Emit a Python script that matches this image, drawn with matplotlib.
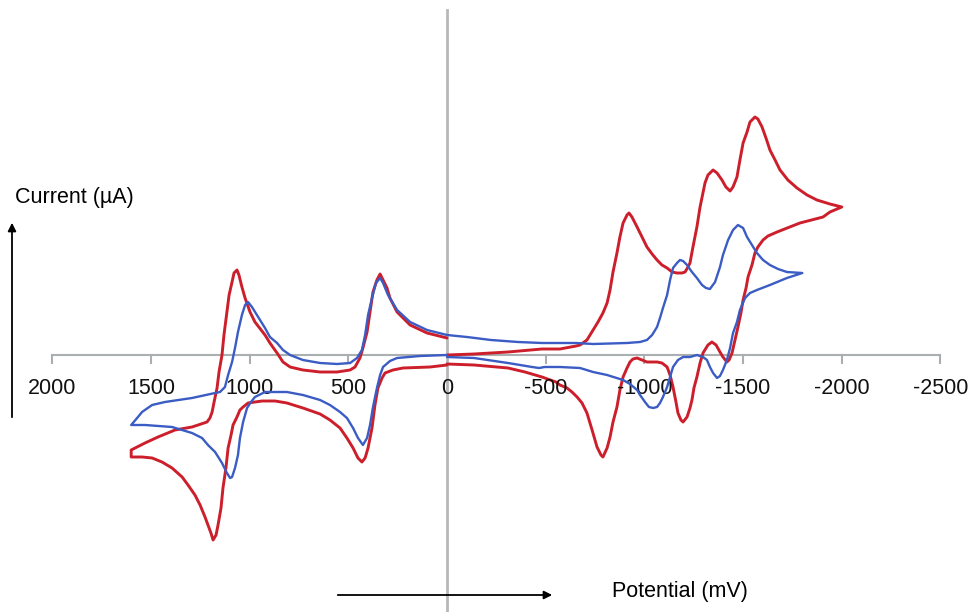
import matplotlib
matplotlib.use("Agg")
import matplotlib.pyplot as plt

plt.rcParams['font.family'] = ['Liberation Sans', 'DejaVu Sans']

# oxidation scans (0 -> +1600 -> 0), potential in mV, current in arbitrary uA
blue_ox_E = [0, 101, 187, 253, 299, 324, 339, 360, 380, 400, 415, 431, 456, 491, 557, 643, 730,
             795, 831, 861, 897, 922, 963, 988, 1008, 1023, 1039, 1059, 1074, 1089, 1109, 1125,
             1150, 1175, 1292, 1429, 1494, 1545, 1570, 1600,
             1530, 1393, 1292, 1241, 1211, 1175, 1140, 1115, 1099, 1089, 1074, 1059, 1049, 1033,
             1013, 993, 973, 922, 871, 811, 730, 643, 593, 542, 507, 476, 451, 426, 405, 390,
             375, 355, 339, 324, 289, 253, 137, 0]
blue_ox_I = [2.0, 2.5, 3.3, 4.5, 6.0, 7.2, 7.7, 7.2, 5.7, 4.0, 2.0, 0.5, -0.3, -0.8, -0.9, -0.8, -0.5,
             0.0, 0.5, 1.2, 1.8, 2.7, 4.0, 4.8, 5.3, 5.0, 4.0, 2.3, 0.7, -0.7, -2.0, -3.2,
             -3.7, -3.8, -4.3, -4.7, -5.0, -5.7, -6.3, -7.0,
             -7.0, -7.2, -7.8, -8.3, -9.0, -9.7, -10.8, -11.8, -12.3, -12.2, -11.3, -10.0, -8.3, -6.7,
             -5.3, -4.7, -4.2, -3.7, -3.7, -3.7, -4.0, -4.5, -5.0, -5.7, -6.3, -7.3, -8.3, -9.0, -8.3, -7.0,
             -5.2, -3.3, -2.0, -1.2, -0.6, -0.3, -0.1, 0.0]

red_ox_E = [0, 101, 187, 253, 289, 304, 324, 339, 355, 375, 390, 405, 426, 441, 466, 491, 557,
            643, 730, 795, 831, 861, 897, 922, 973, 998, 1023, 1039, 1054, 1064, 1079, 1089, 1104,
            1115, 1130, 1140, 1155, 1165, 1180, 1190, 1201, 1216, 1261, 1292, 1378, 1464, 1530, 1600,
            1600, 1545, 1494, 1444, 1393, 1342, 1312, 1277, 1251, 1226, 1211, 1196, 1185, 1170,
            1160, 1145, 1135, 1120, 1109, 1094, 1084, 1064, 1049, 1033, 1008, 937, 871, 811, 730,
            643, 593, 542, 507, 476, 451, 431, 415, 400, 380, 365, 350, 329, 314, 274, 223, 86, 0]
red_ox_I = [1.7, 2.2, 3.0, 4.3, 5.7, 6.7, 7.5, 8.1, 7.5, 6.3, 4.3, 2.3, 0.7, -0.3, -1.2, -1.5, -1.7,
            -1.7, -1.5, -1.2, -0.7, 0.2, 1.2, 2.0, 3.3, 4.3, 5.7, 6.8, 8.0, 8.5, 8.2, 7.3, 6.0,
            4.3, 2.0, 0.0, -1.7, -3.3, -4.7, -5.7, -6.3, -6.7, -7.0, -7.2, -7.5, -8.2, -8.8, -9.5,
            -10.2, -10.2, -10.3, -10.7, -11.3, -12.2, -13.0, -14.0, -15.0, -16.2, -17.0, -17.8, -18.5, -18.0,
            -17.0, -15.3, -13.3, -11.3, -9.3, -8.0, -7.0, -6.2, -5.5, -5.2, -4.8, -4.6, -4.6, -4.8, -5.3,
            -5.9, -6.5, -7.3, -8.3, -9.3, -10.3, -10.7, -10.3, -9.3, -7.3, -5.0, -3.3, -2.3, -1.8, -1.5,
            -1.3, -1.2, -1.0]

# reduction scans (0 -> -1800 / -2000 -> 0)
blue_red_E = [0, -101, -223, -360, -481, -654, -740, -912, -978, -1013, -1039, -1064, -1079, -1094,
              -1115, -1130, -1145, -1165, -1180, -1196, -1216, -1241, -1266, -1292, -1312, -1332,
              -1358, -1383, -1398, -1424, -1449, -1474, -1500, -1520, -1545, -1570, -1601, -1636,
              -1677, -1722, -1800,
              -1722, -1636, -1570, -1535, -1510, -1484, -1469, -1449, -1434, -1418, -1398, -1383,
              -1368, -1348, -1332, -1317, -1297, -1266, -1231, -1196, -1170, -1145, -1130, -1115,
              -1094, -1079, -1064, -1044, -1023, -1003, -978, -963, -927, -892, -811, -740, -674,
              -572, -532, -496, -466, -431, -309, -137, 0]
blue_red_I = [2.0, 1.8, 1.5, 1.3, 1.2, 1.2, 1.1, 1.2, 1.3, 1.5, 2.0, 2.8, 3.7, 4.7,
              6.0, 7.5, 8.7, 9.2, 9.5, 9.4, 9.0, 8.3, 7.7, 7.0, 6.7, 6.6,
              7.3, 8.8, 10.0, 11.5, 12.5, 13.0, 12.7, 11.8, 11.0, 10.2, 9.5, 9.0,
              8.6, 8.3, 8.2,
              7.7, 7.0, 6.5, 6.2, 5.7, 4.5, 3.3, 2.2, 0.7, -0.5, -1.5, -2.1,
              -2.3, -1.8, -1.2, -0.5, -0.2, 0.0, -0.2, -0.2, -0.5, -1.2, -2.2, -3.2,
              -4.2, -4.8, -5.2, -5.3, -5.2, -4.7, -4.0, -3.5, -2.9, -2.5, -2.0, -1.7, -1.3,
              -1.2, -1.2, -1.2, -1.3, -1.2, -0.8, -0.3, -0.2]

red_red_E = [0, -137, -309, -481, -572, -654, -674, -709, -740, -765, -790, -811, -826, -841, -861,
             -876, -892, -912, -922, -937, -963, -988, -1013, -1039, -1064, -1089, -1115, -1140,
             -1165, -1190, -1206, -1221, -1231, -1246, -1266, -1282, -1307, -1322, -1348, -1368,
             -1393, -1413, -1434, -1449, -1469, -1484, -1500, -1520, -1535, -1560, -1575, -1596,
             -1616, -1636, -1662, -1687, -1727, -1773, -1824, -1874, -1940, -2000,
             -1940, -1905, -1788, -1672, -1626, -1601, -1575, -1560, -1545, -1525, -1515, -1500,
             -1489, -1474, -1459, -1444, -1429, -1418, -1398, -1383, -1363, -1342, -1322, -1297,
             -1282, -1266, -1251, -1241, -1231, -1216, -1196, -1185, -1170, -1160, -1145, -1130,
             -1115, -1089, -1064, -1013, -988, -963, -942, -927, -912, -892, -876, -861, -841,
             -826, -811, -790, -780, -760, -735, -709, -684, -659, -633, -608, -572, -552, -481,
             -395, -309, -137, 0]
red_red_I = [0.0, 0.1, 0.3, 0.6, 0.6, 0.9, 1.0, 1.5, 2.5, 3.3, 4.2, 5.2, 6.5, 8.3, 10.2,
             11.8, 13.2, 14.0, 14.2, 13.8, 12.8, 11.8, 10.8, 10.1, 9.5, 9.0, 8.7, 8.3,
             8.2, 8.2, 8.3, 8.8, 9.2, 10.8, 12.8, 14.8, 17.2, 18.0, 18.5, 18.2,
             17.5, 16.8, 16.4, 16.8, 17.8, 19.5, 21.2, 22.3, 23.3, 23.8, 23.6, 22.8,
             21.7, 20.5, 19.5, 18.5, 17.5, 16.7, 16.0, 15.5, 15.1, 14.8,
             14.3, 13.8, 13.2, 12.3, 11.9, 11.5, 10.8, 10.2, 9.0, 7.8, 6.7, 5.5,
             4.2, 2.8, 1.5, 0.2, -0.5, -0.7, -0.2, 0.3, 1.0, 1.3, 1.0, 0.2,
             -0.8, -2.2, -3.3, -4.5, -5.3, -6.2, -6.7, -6.5, -5.8, -4.7, -3.2, -2.0,
             -1.2, -0.8, -0.7, -0.7, -0.5, -0.3, -0.4, -0.7, -1.3, -2.2, -3.5, -5.2, -6.7,
             -8.2, -9.3, -10.2, -10.0, -9.2, -7.5, -5.8, -4.8, -4.2, -3.7, -3.3, -3.0, -2.7, -2.2,
             -1.7, -1.3, -1.0, -0.9]

tick_values = [2000, 1500, 1000, 500, 0, -500, -1000, -1500, -2000, -2500]

blue = '#3a5cc4'
red = '#cc1f2b'
grey = '#aab0b2'

fig = plt.figure(figsize=(9.72, 6.12), dpi=100)
ax = fig.add_axes([0, 0, 1, 1])
ax.set_xlim(2264.6, -2659.7)
ax.set_ylim(-25.7, 35.5)
ax.axis('off')

# axes drawn by hand: vertical line at 0 and the potential axis with ticks below
ax.plot([0, 0], [-25.7, 34.5], color='#b8b8b8', lw=2.0, zorder=1)
ax.plot([tick_values[0], tick_values[-1]], [0, 0], color=grey, lw=1.5, zorder=1)
for t in tick_values:
    if t != 0:
        ax.plot([t, t], [0, -0.75], color=grey, lw=1.5, zorder=1)
    ax.text(t, -3.3, str(t), ha='center', va='center', fontsize=15.5, color='#111111')

line_kw = dict(solid_joinstyle='round', solid_capstyle='round')
ax.plot(blue_ox_E, blue_ox_I, color=blue, lw=1.7, zorder=3, **line_kw)
ax.plot(blue_red_E, blue_red_I, color=blue, lw=1.7, zorder=3, **line_kw)
ax.plot(red_ox_E, red_ox_I, color=red, lw=2.1, zorder=2, **line_kw)
ax.plot(red_red_E, red_red_I, color=red, lw=2.1, zorder=2, **line_kw)

# axis titles with arrows (figure pixel positions)
W, H = 972, 612
fig.text(15 / W, 1 - 198 / H, 'Current (\u00b5A)', ha='left', va='center', fontsize=15.5)
fig.text(612 / W, 1 - 592 / H, 'Potential (mV)', ha='left', va='center', fontsize=15.5)
ax.annotate('', xy=(12 / W, 1 - 220 / H), xytext=(12 / W, 1 - 420 / H),
            xycoords='figure fraction', textcoords='figure fraction',
            arrowprops=dict(arrowstyle='-|>', color='black', lw=1.3, mutation_scale=12))
ax.annotate('', xy=(555 / W, 1 - 595 / H), xytext=(335 / W, 1 - 595 / H),
            xycoords='figure fraction', textcoords='figure fraction',
            arrowprops=dict(arrowstyle='-|>', color='black', lw=1.3, mutation_scale=12))

fig.savefig('out.png', dpi=100)
